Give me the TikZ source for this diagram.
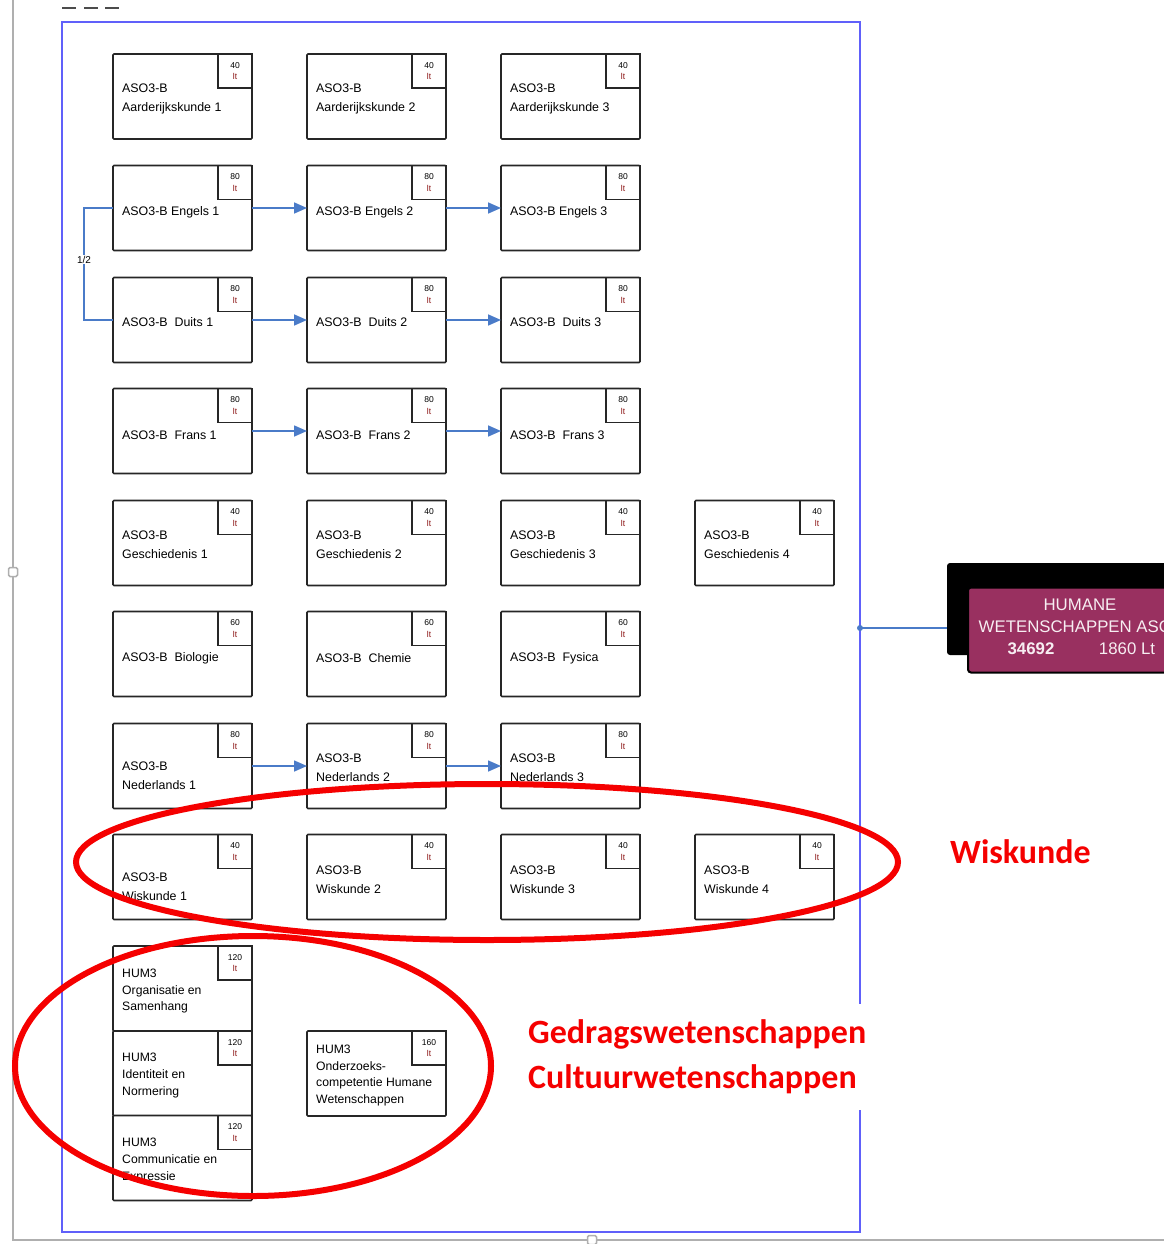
\documentclass[tikz,border=0pt]{standalone}
\usepackage{fontspec}
\setmainfont{Liberation Sans}
\newfontfamily\calib{Carlito}
\usetikzlibrary{arrows.meta,calc}
\definecolor{frameblue}{RGB}{96,96,250}
\definecolor{connblue}{RGB}{74,123,200}
\definecolor{ltred}{RGB}{140,20,20}
\definecolor{humpurple}{RGB}{153,48,96}
\definecolor{markred}{RGB}{245,0,0}
\definecolor{selgray}{RGB}{175,175,175}
\tikzset{
  coursebox/.style={draw=black!85, line width=1.6pt, rounded corners=1pt, minimum width=139pt, minimum height=85pt, inner sep=0pt, outer sep=0pt, fill=white},
  credbox/.style={draw=black!85, line width=1.6pt, minimum size=34pt, inner sep=0pt, outer sep=0pt, align=center, font=\fontsize{8.5}{11.5}\selectfont},
  asotxt/.style={inner sep=0pt, align=left, font=\fontsize{12.4}{19}\selectfont},
  humtxt/.style={inner sep=0pt, align=left, font=\fontsize{12.2}{16.8}\selectfont},
  arr/.style={draw=connblue, line width=1.6pt, -{Triangle[length=13pt,width=11pt]}},
  conn/.style={draw=connblue, line width=1.6pt},
  redmark/.style={draw=markred, line width=6pt},
  marktxt/.style={text=markred, font=\calib\bfseries\fontsize{34}{45}\selectfont, align=left, inner sep=0pt},
  handle/.style={draw=selgray, line width=1.5pt, fill=white, rounded corners=1.5pt, minimum size=9pt, inner sep=0pt}
}
\newcommand\mkcourse[7]{%
  \node[coursebox] (#1) at (#2,#3) {};
  \node[credbox, anchor=north east] (#1c) at (#1.north east) {#4\\\textcolor{ltred}{lt}};
  \node[#7, anchor=west] (#1t) at ($(#1.west)+(9,#6)$) {#5};
}
\begin{document}
\begin{tikzpicture}[x=1pt,y=-1pt]
\useasboundingbox (0,0) rectangle (1163,1244);
% selection frame of the screenshot
\draw[selgray, line width=2pt] (13,-2) -- (13,1240) -- (1165,1240);
\node[handle] (h1) at (13,572) {};
\node[handle] (h2) at (592,1240) {};
% cut-off marks at the top
\draw[black!70, line width=2.5pt] (62,8) -- (76,8) (84,8) -- (98,8) (105,8) -- (119,8);
% blue frame
\draw[frameblue, line width=2.5pt] (62,22) rectangle (860,1232);

% row 1
\mkcourse{aa1}{182.5}{96.5}{40}{ASO3-B\\Aarderijkskunde 1}{2.5}{asotxt}
\mkcourse{aa2}{376.5}{96.5}{40}{ASO3-B\\Aarderijkskunde 2}{2.5}{asotxt}
\mkcourse{aa3}{570.5}{96.5}{40}{ASO3-B\\Aarderijkskunde 3}{2.5}{asotxt}
% row 2
\mkcourse{en1}{182.5}{208}{80}{ASO3-B Engels 1}{4}{asotxt}
\mkcourse{en2}{376.5}{208}{80}{ASO3-B Engels 2}{4}{asotxt}
\mkcourse{en3}{570.5}{208}{80}{ASO3-B Engels 3}{4}{asotxt}
% row 3
\mkcourse{du1}{182.5}{320}{80}{ASO3-B\ \ Duits 1}{2}{asotxt}
\mkcourse{du2}{376.5}{320}{80}{ASO3-B\ \ Duits 2}{2}{asotxt}
\mkcourse{du3}{570.5}{320}{80}{ASO3-B\ \ Duits 3}{2}{asotxt}
% row 4
\mkcourse{fr1}{182.5}{431}{80}{ASO3-B\ \ Frans 1}{4}{asotxt}
\mkcourse{fr2}{376.5}{431}{80}{ASO3-B\ \ Frans 2}{4}{asotxt}
\mkcourse{fr3}{570.5}{431}{80}{ASO3-B\ \ Frans 3}{4}{asotxt}
% row 5
\mkcourse{ge1}{182.5}{543}{40}{ASO3-B\\Geschiedenis 1}{2}{asotxt}
\mkcourse{ge2}{376.5}{543}{40}{ASO3-B\\Geschiedenis 2}{2}{asotxt}
\mkcourse{ge3}{570.5}{543}{40}{ASO3-B\\Geschiedenis 3}{2}{asotxt}
\mkcourse{ge4}{764.5}{543}{40}{ASO3-B\\Geschiedenis 4}{2}{asotxt}
% row 6
\mkcourse{bio}{182.5}{654}{60}{ASO3-B\ \ Biologie}{4}{asotxt}
\mkcourse{che}{376.5}{654}{60}{ASO3-B\ \ Chemie}{4}{asotxt}
\mkcourse{fys}{570.5}{654}{60}{ASO3-B\ \ Fysica}{4}{asotxt}
% row 7
\mkcourse{ne1}{182.5}{766}{80}{ASO3-B\\Nederlands 1}{10}{asotxt}
\mkcourse{ne2}{376.5}{766}{80}{ASO3-B\\Nederlands 2}{1.5}{asotxt}
\mkcourse{ne3}{570.5}{766}{80}{ASO3-B\\Nederlands 3}{1.5}{asotxt}
% row 8
\mkcourse{wi1}{182.5}{877}{40}{ASO3-B\\Wiskunde 1}{10}{asotxt}
\mkcourse{wi2}{376.5}{877}{40}{ASO3-B\\Wiskunde 2}{3}{asotxt}
\mkcourse{wi3}{570.5}{877}{40}{ASO3-B\\Wiskunde 3}{3}{asotxt}
\mkcourse{wi4}{764.5}{877}{40}{ASO3-B\\Wiskunde 4}{3}{asotxt}
% HUM3
\mkcourse{hoa}{182.5}{988.5}{120}{HUM3\\Organisatie en\\Samenhang}{2.5}{humtxt}
\mkcourse{hib}{182.5}{1073.5}{120}{HUM3\\Identiteit en\\Normering}{2}{humtxt}
\mkcourse{hcc}{182.5}{1158}{120}{HUM3\\Communicatie en\\Expressie}{2.5}{humtxt}
\mkcourse{hon}{376.5}{1073.5}{160}{HUM3\\Onderzoeks-\\competentie Humane\\Wetenschappen}{2}{humtxt}

% arrows
\draw[arr] (en1) -- (en2);
\draw[arr] (en2) -- (en3);
\draw[arr] (du1) -- (du2);
\draw[arr] (du2) -- (du3);
\draw[arr] (fr1) -- (fr2);
\draw[arr] (fr2) -- (fr3);
\draw[arr] (ne1) -- (ne2);
\draw[arr] (ne2) -- (ne3);
\draw[conn] (en1.west) -- ++(-29,0) |- node[pos=0.23, fill=white, inner sep=1pt, font=\fontsize{10}{11}\selectfont] (half) {1/2} (du1.west);

% parent node
\node[fill=black, rounded corners=3pt, minimum width=223pt, minimum height=92pt, inner sep=0pt, outer sep=0pt] (humshadow) at (1058.5,609) {};
\node[fill=humpurple, draw=black, line width=2pt, rounded corners=3pt, minimum width=224pt, minimum height=85pt, inner sep=0pt] (hum) at (1080,630) {};
\node[text=white!92!humpurple, font=\fontsize{16.8}{20}\selectfont] (humt1) at (1080,605) {HUMANE};
\node[text=white!92!humpurple, font=\fontsize{16.8}{20}\selectfont] (humt2) at (1080,627) {WETENSCHAPPEN ASO3};
\node[text=white!92!humpurple, font=\bfseries\fontsize{16.8}{20}\selectfont] (humt3) at (1031,649) {34692};
\node[text=white!92!humpurple, font=\fontsize{16.8}{20}\selectfont] (humt4) at (1127,649) {1860 Lt};
\coordinate (dot) at (860,628);
\fill[connblue] (dot) circle (3pt);
\draw[conn] (dot) -- (dot -| humshadow.west);

% red annotations
\draw[redmark] (487,862) ellipse [x radius=411pt, y radius=78pt];
\draw[redmark] (253,1066) ellipse [x radius=238pt, y radius=130pt];
\node[marktxt, anchor=west] (wisk) at (950,852) {Wiskunde};
\node[marktxt, anchor=west, fill=white, inner xsep=3pt, inner ysep=16pt] (gedr) at (525,1057) {Gedragswetenschappen\\Cultuurwetenschappen};
\end{tikzpicture}
\end{document}
